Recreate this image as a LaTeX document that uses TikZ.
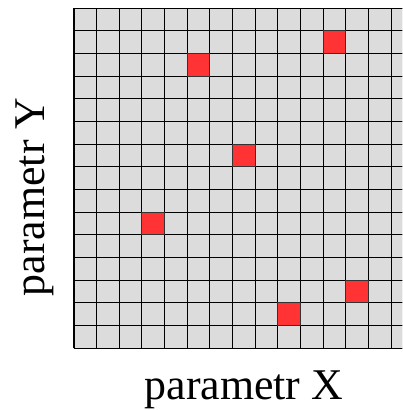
\documentclass[tikz,border=0pt]{standalone}
\usepackage{fontspec}
\setmainfont{Liberation Serif}
\definecolor{cellGray}{HTML}{DCDCDC}
\definecolor{hitRed}{HTML}{FF3333}
\usetikzlibrary{positioning}

\begin{document}
\begin{tikzpicture}[x=0.454cm, y=0.454cm,
  gridline/.style={draw=black, line width=0.7pt},
  hit/.style={draw=black!80, line width=0.7pt, fill=hitRed},
  axislabel/.style={font=\fontsize{25}{30}\selectfont, inner sep=0pt}]
\clip (-3.26,-2.73) rectangle (14.49,15.36);
% grid
\fill[cellGray] (0,0) rectangle (15,15);
\foreach \i in {0,...,15} {
  \draw[gridline] (\i,0) -- (\i,15);
  \draw[gridline] (0,\i) -- (15,\i);
}
% selected cells (column, row from top)
\foreach \c/\r in {5/2, 11/1, 7/6, 3/9, 12/12, 9/13}
  \draw[hit] (\c,14-\r) rectangle ++(1,1);
% axis labels
\node[axislabel, anchor=base] (xlabel) at (7.5,-2.25) {parametr X};
\node[axislabel, anchor=base, rotate=90] (ylabel) at (-1.28,6.67) {parametr Y};
\end{tikzpicture}
\end{document}
